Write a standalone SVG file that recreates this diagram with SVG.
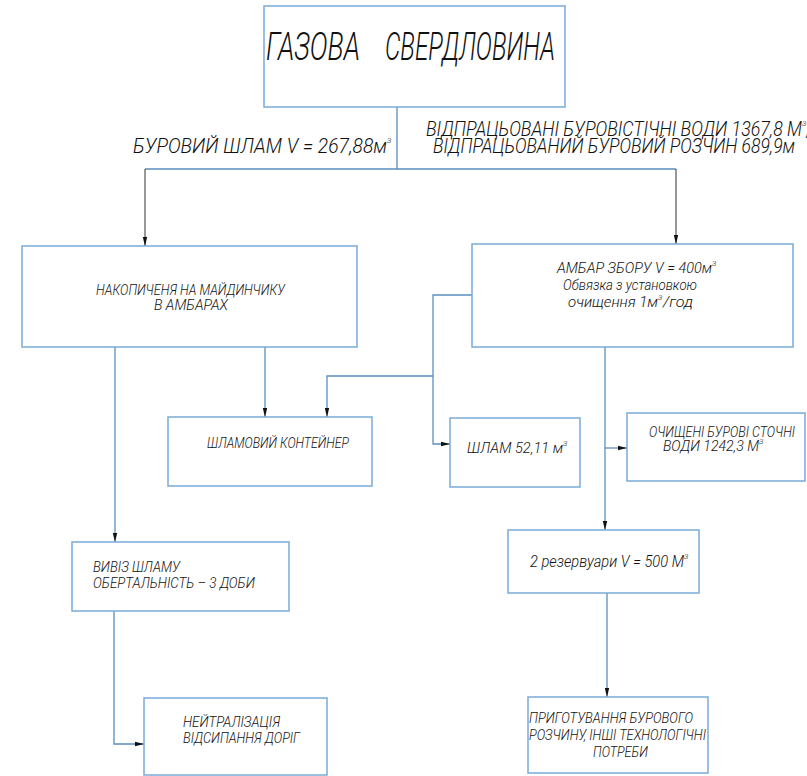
<svg xmlns="http://www.w3.org/2000/svg" width="807" height="776" viewBox="0 0 807 776">
  <style>
    .box { fill: #ffffff; stroke: #7aaad6; stroke-width: 1.5; }
    .t { font-family: Roboto, "Liberation Sans Narrow", "DejaVu Sans Condensed", sans-serif; font-style: italic; font-weight: 300; fill: #111111; }
    .n { font-size: 14px; }
    .sup { font-size: 8px; }
    .wire { fill: none; stroke: #5b8fbf; stroke-width: 1.3; }
    .lead { fill: none; stroke: #333333; stroke-width: 1; }
  </style>
  <defs>
    <marker id="arrow" markerUnits="userSpaceOnUse" markerWidth="10" markerHeight="6" refX="9" refY="3" orient="auto">
      <path d="M0,0.8 L9,3 L0,5.2 Z" fill="#111111"/>
    </marker>
  </defs>
  <rect width="807" height="776" fill="#ffffff"/>

  <!-- connectors -->
  <g id="connectors">
    <path class="wire" d="M397,107 V169 M145,169 H676"/>
    <path class="lead" d="M145,169 V246" marker-end="url(#arrow)"/>
    <path class="lead" d="M676,169 V244" marker-end="url(#arrow)"/>
    <path class="wire" d="M115,347 V542" marker-end="url(#arrow)"/>
    <path class="wire" d="M265,347 V417" marker-end="url(#arrow)"/>
    <path class="wire" d="M472,295 H433 V444 H450" marker-end="url(#arrow)"/>
    <path class="wire" d="M433,376 H327 V417" marker-end="url(#arrow)"/>
    <path class="wire" d="M605,347 V530" marker-end="url(#arrow)"/>
    <path class="wire" d="M605,448 H627" marker-end="url(#arrow)"/>
    <path class="wire" d="M607,593 V697" marker-end="url(#arrow)"/>
    <path class="wire" d="M114,611 V744 H144" marker-end="url(#arrow)"/>
  </g>

  <!-- flow labels -->
  <g id="flow-labels">
    <text class="t" x="133" y="153" font-size="20"><tspan textLength="254" lengthAdjust="spacingAndGlyphs">БУРОВИЙ ШЛАМ V = 267,88м</tspan><tspan class="sup" dy="-10">3</tspan></text>
    <text class="t" x="426" y="136" font-size="20"><tspan textLength="376" lengthAdjust="spacingAndGlyphs">ВІДПРАЦЬОВАНІ БУРОВІСТІЧНІ ВОДИ 1367,8 М</tspan><tspan class="sup" dy="-10">3</tspan><tspan dy="10">;</tspan></text>
    <text class="t" x="433" y="153" font-size="20" textLength="362" lengthAdjust="spacingAndGlyphs">ВІДПРАЦЬОВАНИЙ БУРОВИЙ РОЗЧИН 689,9м</text>
  </g>

  <g id="node-well">
    <rect class="box" x="264" y="6" width="301" height="101"/>
    <text class="t" y="60" font-size="38">
      <tspan x="266" textLength="94" lengthAdjust="spacingAndGlyphs">ГАЗОВА</tspan>
      <tspan x="385" textLength="170" lengthAdjust="spacingAndGlyphs">СВЕРДЛОВИНА</tspan>
    </text>
  </g>

  <g id="node-accumulation">
    <rect class="box" x="22" y="246" width="335" height="101"/>
    <text class="t n" x="96" y="295" textLength="189" lengthAdjust="spacingAndGlyphs">НАКОПИЧЕНЯ НА МАЙДИНЧИКУ</text>
    <text class="t n" x="154" y="310" textLength="74" lengthAdjust="spacingAndGlyphs">В АМБАРАХ</text>
  </g>

  <g id="node-pit">
    <rect class="box" x="472" y="244" width="321" height="103"/>
    <text class="t n" x="557" y="273"><tspan textLength="155" lengthAdjust="spacingAndGlyphs">АМБАР ЗБОРУ V = 400м</tspan><tspan class="sup" dy="-7">3</tspan></text>
    <text class="t n" x="563" y="290" textLength="134" lengthAdjust="spacingAndGlyphs">Обвязка з установкою</text>
    <text class="t n" x="568" y="307"><tspan textLength="90" lengthAdjust="spacingAndGlyphs">очищення 1м</tspan><tspan class="sup" dy="-7">3</tspan><tspan x="663" dy="7" textLength="30" lengthAdjust="spacingAndGlyphs">/год</tspan></text>
  </g>

  <g id="node-container">
    <rect class="box" x="168" y="417" width="204" height="69"/>
    <text class="t n" x="207" y="448" textLength="142" lengthAdjust="spacingAndGlyphs">ШЛАМОВИЙ КОНТЕЙНЕР</text>
  </g>

  <g id="node-sludge">
    <rect class="box" x="450" y="418" width="130" height="69"/>
    <text class="t n" x="467" y="453"><tspan textLength="96" lengthAdjust="spacingAndGlyphs">ШЛАМ  52,11 м</tspan><tspan class="sup" dy="-7">3</tspan></text>
  </g>

  <g id="node-treated-water">
    <rect class="box" x="627" y="413" width="178" height="68"/>
    <text class="t n" x="649" y="437" textLength="146" lengthAdjust="spacingAndGlyphs">ОЧИЩЕНІ БУРОВІ СТОЧНІ</text>
    <text class="t n" x="663" y="451"><tspan textLength="96" lengthAdjust="spacingAndGlyphs">ВОДИ 1242,3 М</tspan><tspan class="sup" dy="-7">3</tspan></text>
  </g>

  <g id="node-removal">
    <rect class="box" x="72" y="542" width="217" height="69"/>
    <text class="t n" x="93" y="572" textLength="87" lengthAdjust="spacingAndGlyphs">ВИВІЗ ШЛАМУ</text>
    <text class="t n" x="93" y="588" textLength="162" lengthAdjust="spacingAndGlyphs">ОБЕРТАЛЬНІСТЬ – 3 ДОБИ</text>
  </g>

  <g id="node-tanks">
    <rect class="box" x="508" y="530" width="191" height="63"/>
    <text class="t" x="530" y="567" font-size="16"><tspan textLength="154" lengthAdjust="spacingAndGlyphs">2 резервуари V = 500 М</tspan><tspan class="sup" dy="-8">3</tspan></text>
  </g>

  <g id="node-neutralization">
    <rect class="box" x="144" y="698" width="183" height="77"/>
    <text class="t" x="183" y="727" font-size="15" textLength="97" lengthAdjust="spacingAndGlyphs">НЕЙТРАЛІЗАЦІЯ</text>
    <text class="t" x="183" y="743" font-size="15" textLength="117" lengthAdjust="spacingAndGlyphs">ВІДСИПАННЯ ДОРІГ</text>
  </g>

  <g id="node-preparation">
    <rect class="box" x="528" y="697" width="180" height="76"/>
    <text class="t n" x="529" y="723" textLength="164" lengthAdjust="spacingAndGlyphs">ПРИГОТУВАННЯ БУРОВОГО</text>
    <text class="t n" x="529" y="740" textLength="177" lengthAdjust="spacingAndGlyphs">РОЗЧИНУ, ІНШІ ТЕХНОЛОГІЧНІ</text>
    <text class="t n" x="593" y="757" textLength="55" lengthAdjust="spacingAndGlyphs">ПОТРЕБИ</text>
  </g>
</svg>
